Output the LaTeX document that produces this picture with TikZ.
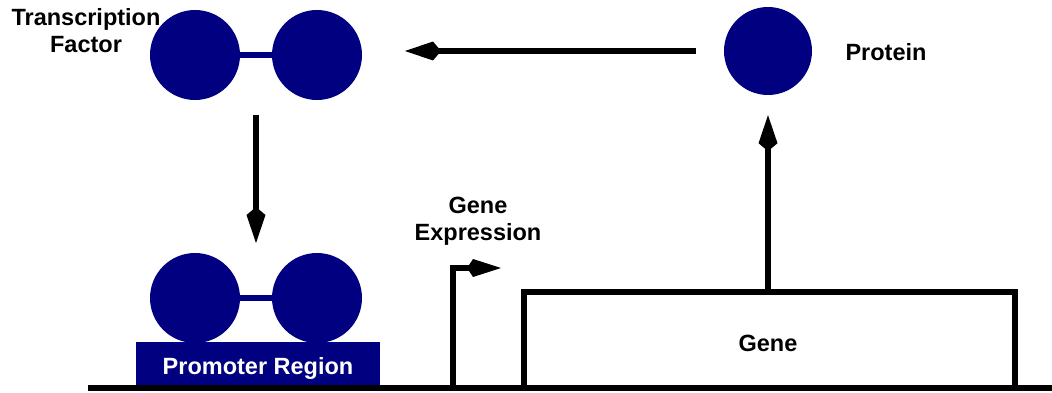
\documentclass[tikz,border=0pt]{standalone}
\usepackage{fontspec}
\setmainfont{Liberation Sans}
\usetikzlibrary{arrows.meta,calc}
\definecolor{navy}{RGB}{0,0,128}
\begin{document}
\begin{tikzpicture}[x=1pt,y=-1pt,
  lbl/.style={font=\fontsize{23.5}{27}\selectfont\bfseries, align=center, inner sep=0pt},
  ball/.style={circle, fill=navy, draw=none, minimum size=90pt, inner sep=0pt},
  link/.style={draw=navy, line width=6pt},
  flow/.style={draw=black, line width=6pt, -{Kite[length=36pt,width=19pt,inset=8pt]}},
  thick line/.style={draw=black, line width=6pt}
]
\useasboundingbox (0,0) rectangle (1052,393);

% free transcription factor (dimer)
\node[ball] (tfL) at (195,55) {};
\node[ball] (tfR) at (317,55) {};
\draw[link] (tfL) -- (tfR);
\coordinate (tfmid) at (256,55);

% protein product
\node[ball, minimum size=88pt] (protein) at (768,51) {};

% promoter region with bound factor
\node[fill=navy, minimum width=244pt, minimum height=46pt, inner sep=0pt] (promoter) at (258,365) {};
\node[ball] (bL) at (195,298) {};
\node[ball] (bR) at (317,298) {};
\draw[link] (bL) -- (bR);
\coordinate (bmid) at (256,298);

% DNA strand and gene
\coordinate (dnaL) at (88,388);
\coordinate (dnaR) at (1052,388);
\draw[thick line] (524,388) rectangle (1015,292);
\node[minimum width=491pt, minimum height=96pt, inner sep=0pt] (gene) at (768,340) {};
\draw[thick line] (dnaL) -- (dnaR);

% transcription start marker
\coordinate (tss) at (453,388);
\coordinate (tssend) at (501,268);
\draw[flow, -{Kite[length=34pt,width=18pt,inset=6pt]}] (tss) |- (tssend);

% arrows of the loop
\draw[flow, shorten <=28pt] (protein.west) -- (405,51);
\draw[flow] ($(tfmid)+(0,60)$) -- ($(bmid)+(0,-55)$);
\draw[flow] (gene.north) -- ($(protein.south)+(0,20)$);

% labels
\node[lbl] (tflabel) at (86,31) {Transcription\\Factor};
\node[lbl] (plabel) at (886,52) {Protein};
\node[lbl] (gelabel) at (478,221) {Gene\\Expression};
\node[lbl] (glabel) at (768,343) {Gene};
\node[lbl, text=white] (prlabel) at (258,368) {Promoter Region};
\end{tikzpicture}
\end{document}
